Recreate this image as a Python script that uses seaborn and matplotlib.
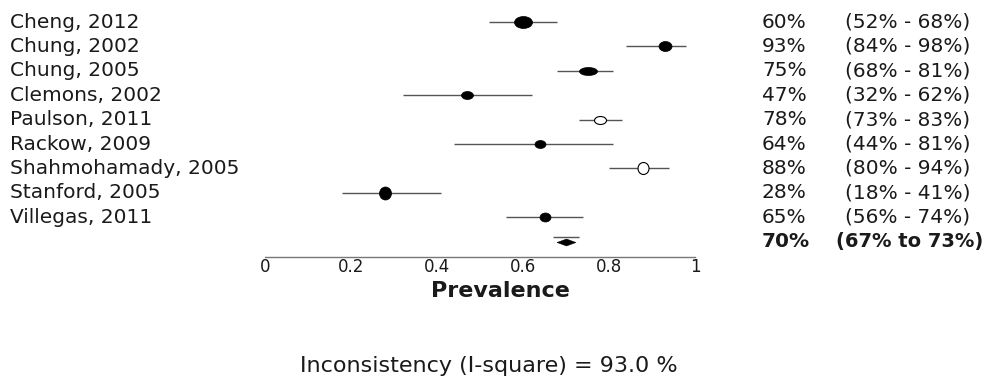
import matplotlib
matplotlib.use('Agg')
import matplotlib.pyplot as plt
import seaborn as sns
from matplotlib.path import Path
from matplotlib.transforms import Affine2D, blended_transform_factory

# data
studies = ['Cheng, 2012', 'Chung, 2002', 'Chung, 2005', 'Clemons, 2002', 'Paulson, 2011',
           'Rackow, 2009', 'Shahmohamady, 2005', 'Stanford, 2005', 'Villegas, 2011']
prev = [0.60, 0.93, 0.75, 0.47, 0.78, 0.64, 0.88, 0.28, 0.65]
ci_low = [0.52, 0.84, 0.68, 0.32, 0.73, 0.44, 0.80, 0.18, 0.56]
ci_high = [0.68, 0.98, 0.81, 0.62, 0.83, 0.81, 0.94, 0.41, 0.74]
filled = [True, True, True, True, False, True, False, True, True]
pooled = 0.70
pooled_low = 0.67
pooled_high = 0.73
i_square = 93.0
x_ticks = [0, 0.2, 0.4, 0.6, 0.8, 1]
x_tick_labels = ['0', '0.2', '0.4', '0.6', '0.8', '1']

# marker shapes (width, height in px) - the study weights
marker_w = [18, 13, 18, 12, 12, 11, 11, 12, 11]
marker_h = [12, 10, 8, 8, 8, 8, 12, 13, 9]

sns.set_style('white')
plt.rcParams['font.family'] = ['DejaVu Sans']
txt_color = '#1a1a1a'

fig = plt.figure(figsize=(10.04, 3.8), dpi=100)
ax = fig.add_axes([265 / 1004, 123 / 380, 430 / 1004, 257 / 380])
ax.set_xlim(0, 1)
ax.set_ylim(9.631, -0.902)


def ellipse(w, h):
    return Path.unit_circle().transformed(Affine2D().scale(w, h))


rows = list(range(len(studies)))
ax.hlines(rows, ci_low, ci_high, color='#555555', lw=1.0, zorder=1)

for i in rows:
    size = (max(marker_w[i], marker_h[i]) * 0.72) ** 2
    if filled[i]:
        sns.scatterplot(x=[prev[i]], y=[i], marker=ellipse(marker_w[i], marker_h[i]), s=size,
                        color='black', edgecolor='black', linewidth=0.5, ax=ax, zorder=3, clip_on=False)
    else:
        sns.scatterplot(x=[prev[i]], y=[i], marker=ellipse(marker_w[i], marker_h[i]), s=size,
                        facecolor='white', edgecolor='black', linewidth=0.8, ax=ax, zorder=3, clip_on=False)

# pooled estimate
pool_row = len(studies)
ax.hlines([pool_row - 0.2], [pooled_low], [pooled_high], color='#555555', lw=1.0)
sns.scatterplot(x=[pooled], y=[pool_row], marker=Path([(-1, 0), (0, 0.37), (1, 0), (0, -0.37), (-1, 0)]),
                s=(19 * 0.72) ** 2, color='black', edgecolor='black', linewidth=0.3, ax=ax, clip_on=False)

# axis
for s in ['top', 'left', 'right']:
    ax.spines[s].set_visible(False)
ax.spines['bottom'].set_color('#777777')
ax.spines['bottom'].set_linewidth(1.0)
ax.set_yticks([])
ax.set_xticks(x_ticks)
ax.set_xticklabels(x_tick_labels, fontsize=12, color=txt_color)
ax.tick_params(axis='x', length=0, pad=1)
ax.set_ylabel('')

# study labels and values
tr = blended_transform_factory(fig.transFigure, ax.transData)
for i in rows:
    ax.text(10 / 1004, i, studies[i], transform=tr, ha='left', va='center', fontsize=14.5, color=txt_color)
    ax.text(762 / 1004, i, f'{prev[i] * 100:.0f}%', transform=tr, ha='left', va='center',
            fontsize=14.5, color=txt_color)
    ax.text(845 / 1004, i, f'({ci_low[i] * 100:.0f}% - {ci_high[i] * 100:.0f}%)', transform=tr,
            ha='left', va='center', fontsize=14.5, color=txt_color)
ax.text(762 / 1004, pool_row, f'{pooled * 100:.0f}%', transform=tr, ha='left', va='center',
        fontsize=14.5, weight='bold', color=txt_color)
ax.text(836 / 1004, pool_row, f'({pooled_low * 100:.0f}% to {pooled_high * 100:.0f}%)', transform=tr,
        ha='left', va='center', fontsize=14, weight='bold', color=txt_color)

fig.text(500 / 1004, 1 - 291 / 380, 'Prevalence', ha='center', va='center', fontsize=16,
         weight='bold', color=txt_color)
fig.text(489 / 1004, 1 - 366 / 380, f'Inconsistency (I-square) = {i_square:.1f} %', ha='center',
         va='center', fontsize=16, color=txt_color)

fig.savefig('out.png', dpi=100)
